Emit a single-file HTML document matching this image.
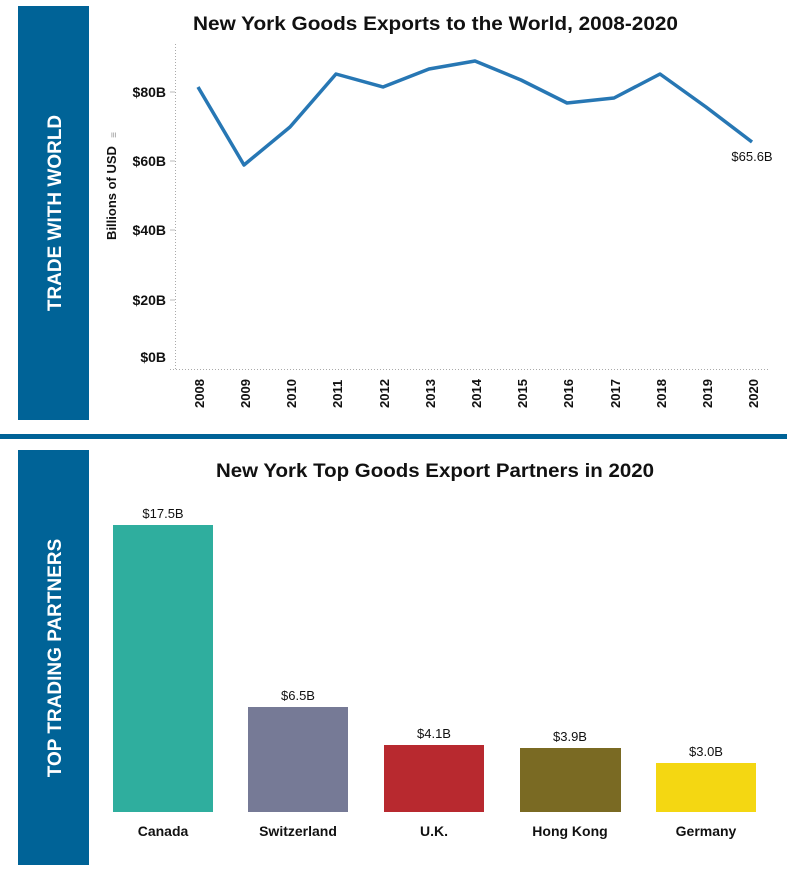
<!DOCTYPE html><html><head><meta charset="utf-8"><style>
body{margin:0;background:#fff;width:787px;height:871px;overflow:hidden}
svg{display:block;font-family:"Liberation Sans",sans-serif}
</style></head><body>
<svg width="787" height="871" viewBox="0 0 787 871">
<rect x="18" y="6" width="71" height="414" fill="#006397"/>
<text transform="translate(61,213) rotate(-90)" text-anchor="middle" fill="#fff" font-size="19" font-weight="bold">TRADE WITH WORLD</text>
<rect x="0" y="434" width="787" height="5" fill="#006397"/>
<rect x="18" y="450" width="71" height="415" fill="#006397"/>
<text transform="translate(61,658) rotate(-90)" text-anchor="middle" fill="#fff" font-size="19" font-weight="bold">TOP TRADING PARTNERS</text>

<text x="193" y="30" font-size="19" font-weight="bold" fill="#111" textLength="485" lengthAdjust="spacingAndGlyphs">New York Goods Exports to the World, 2008-2020</text>
<line x1="175.5" y1="44" x2="175.5" y2="369" stroke="#aaa" stroke-dasharray="1,2"/>
<line x1="170" y1="369.5" x2="770" y2="369.5" stroke="#aaa" stroke-dasharray="1,2"/>
<g stroke="#bbb"><line x1="170" y1="92" x2="175" y2="92"/><line x1="170" y1="161" x2="175" y2="161"/><line x1="170" y1="230" x2="175" y2="230"/><line x1="170" y1="300" x2="175" y2="300"/></g>
<g font-size="14" font-weight="bold" text-anchor="end" fill="#111">
<text x="166" y="97">$80B</text><text x="166" y="166">$60B</text><text x="166" y="235">$40B</text><text x="166" y="305">$20B</text><text x="166" y="362">$0B</text></g>
<text transform="translate(116,193) rotate(-90)" text-anchor="middle" font-size="13" font-weight="bold" fill="#111">Billions of USD</text>
<text transform="translate(117,135) rotate(-90)" text-anchor="middle" font-size="10" fill="#999">≡</text>
<g font-size="13" font-weight="bold" fill="#111">
<text transform="translate(204,408) rotate(-90)">2008</text><text transform="translate(250,408) rotate(-90)">2009</text><text transform="translate(296,408) rotate(-90)">2010</text><text transform="translate(342,408) rotate(-90)">2011</text><text transform="translate(389,408) rotate(-90)">2012</text><text transform="translate(435,408) rotate(-90)">2013</text><text transform="translate(481,408) rotate(-90)">2014</text><text transform="translate(527,408) rotate(-90)">2015</text><text transform="translate(573,408) rotate(-90)">2016</text><text transform="translate(620,408) rotate(-90)">2017</text><text transform="translate(666,408) rotate(-90)">2018</text><text transform="translate(712,408) rotate(-90)">2019</text><text transform="translate(758,408) rotate(-90)">2020</text></g>
<polyline fill="none" stroke="#2777b4" stroke-width="3.5" stroke-linejoin="round" points="198,87 244,165 290,127 336,74 383,87 429,69 475,61 521,80 567,103 614,98 660,74 706,107 752,142"/>
<text x="752" y="161" text-anchor="middle" font-size="13" fill="#111">$65.6B</text>

<text x="216" y="477" font-size="19" font-weight="bold" fill="#111" textLength="438" lengthAdjust="spacingAndGlyphs">New York Top Goods Export Partners in 2020</text>
<rect x="113" y="525" width="100" height="287" fill="#2fae9e"/>
<rect x="248" y="707" width="100" height="105" fill="#767a96"/>
<rect x="384" y="745" width="100" height="67" fill="#b8292f"/>
<rect x="520" y="748" width="101" height="64" fill="#7a6a23"/>
<rect x="656" y="763" width="100" height="49" fill="#f4d712"/>
<g font-size="13" text-anchor="middle" fill="#111">
<text x="163" y="518">$17.5B</text><text x="298" y="700">$6.5B</text><text x="434" y="738">$4.1B</text><text x="570" y="741">$3.9B</text><text x="706" y="756">$3.0B</text></g>
<g font-size="14" font-weight="bold" text-anchor="middle" fill="#111">
<text x="163" y="836">Canada</text><text x="298" y="836">Switzerland</text><text x="434" y="836">U.K.</text><text x="570" y="836">Hong Kong</text><text x="706" y="836">Germany</text></g>
</svg>
</body></html>
